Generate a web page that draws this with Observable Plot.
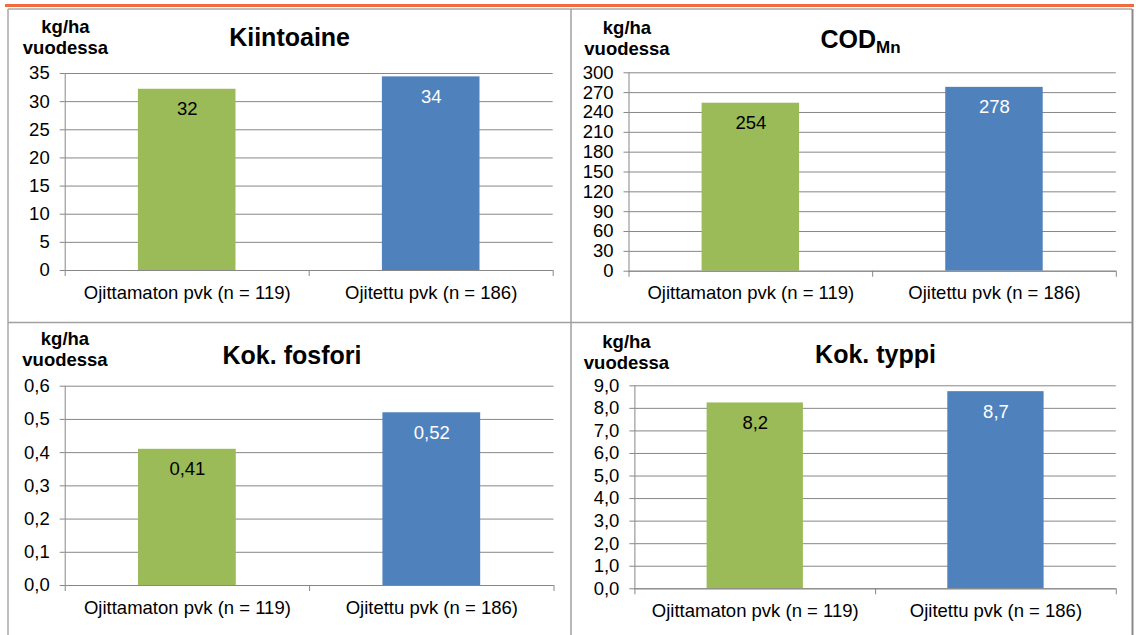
<!DOCTYPE html>
<html><head><meta charset="utf-8">
<script src="https://cdn.jsdelivr.net/npm/d3@7"></script>
<script src="https://cdn.jsdelivr.net/npm/@observablehq/plot@0.6"></script>
<style>
body{margin:0;background:#fff;}
#chart{position:relative;width:1136px;height:635px;overflow:hidden;background:#fff;font-family:"Liberation Sans",Arial,sans-serif;}
#chart svg.panel{position:absolute;overflow:visible;}
#overlay{position:absolute;left:0;top:0;pointer-events:none;}
</style></head><body><div id="chart"></div>
<script>
// ---- data ----
const categories = ["Ojittamaton pvk (n = 119)", "Ojitettu pvk (n = 186)"];
const barColors = ["#9bbb59", "#4f81bd"];
const labelColors = ["#000000", "#ffffff"];
const titles = ["Kiintoaine", "COD", "Kok. fosfori", "Kok. typpi"];
const subscriptCod = "Mn";
const unitLines = ["kg/ha", "vuodessa"];
const kiintoaine = [32.2, 34.4];
const codMn = [254, 278];
const fosfori = [0.41, 0.52];
const typpi = [8.24, 8.74];
const ticksKiintoaine = [0, 5, 10, 15, 20, 25, 30, 35];
const ticksCod = [0, 30, 60, 90, 120, 150, 180, 210, 240, 270, 300];
const ticksFosfori = [0, 0.1, 0.2, 0.3, 0.4, 0.5, 0.6];
const ticksTyppi = [0, 1, 2, 3, 4, 5, 6, 7, 8, 9];

// ---- formatting ----
const fi = d3.formatLocale({decimal: ",", thousands: "\u00a0", grouping: [3], currency: ["", " €"]});
const gridColor = "#878787";
const font = "'Liberation Sans', Arial, sans-serif";
const fs = 18.5;

// ---- layout ----
const panels = [
  {values: kiintoaine, ticks: ticksKiintoaine, tickFmt: fi.format(".0f"), labelFmt: fi.format(".0f"),
   left: 9, top: 10, width: 562, height: 312, mt: 63, mr: 18.3, mb: 52, ml: 55.7},
  {values: codMn, ticks: ticksCod, tickFmt: fi.format(".0f"), labelFmt: fi.format(".0f"),
   left: 572, top: 10, width: 560, height: 312, mt: 62.3, mr: 16.2, mb: 51.3, ml: 56.5},
  {values: fosfori, ticks: ticksFosfori, tickFmt: fi.format(".1f"), labelFmt: fi.format(".2f"),
   left: 9, top: 324, width: 562, height: 311, mt: 61.7, mr: 17.5, mb: 50, ml: 55.7},
  {values: typpi, ticks: ticksTyppi, tickFmt: fi.format(".1f"), labelFmt: fi.format(".1f"),
   left: 572, top: 324, width: 560, height: 311, mt: 61.3, mr: 16.2, mb: 46.7, ml: 62.4}
];

const chart = document.getElementById("chart");

panels.forEach(p => {
  const data = categories.map((c, i) => ({i, category: c, value: p.values[i], color: barColors[i], labelColor: labelColors[i]}));
  const ymax = p.ticks[p.ticks.length - 1];
  const svg = Plot.plot({
    width: p.width, height: p.height,
    marginTop: p.mt, marginRight: p.mr, marginBottom: p.mb, marginLeft: p.ml,
    x: {domain: [0, categories.length]},
    y: {domain: [0, ymax]},
    color: {type: "identity"},
    style: {fontFamily: font, fontSize: fs + "px", color: "#000", background: "transparent", maxWidth: "none", overflow: "visible"},
    marks: [
      Plot.gridY(p.ticks, {stroke: gridColor, strokeOpacity: 1, strokeWidth: 1}),
      Plot.axisY(p.ticks, {tickSize: 5, tickPadding: 10.5, tickFormat: p.tickFmt, stroke: gridColor, fill: "#000", fontSize: fs, label: null}),
      Plot.rectY(data, {x1: d => d.i + 0.3, x2: d => d.i + 0.7, y: "value", fill: "color"}),
      Plot.ruleX([0], {stroke: gridColor}),
      Plot.ruleY([0], {stroke: gridColor}),
      Plot.axisX(d3.range(categories.length + 1), {tickSize: 6, tickFormat: () => "", stroke: gridColor, label: null}),
      Plot.axisX(categories.map((c, i) => i + 0.5), {tickSize: 0, tickPadding: 15, tickFormat: t => categories[Math.floor(t)], fill: "#000", fontSize: fs, label: null}),
      Plot.text(data, {x: d => d.i + 0.5, y: "value", text: d => p.labelFmt(d.value), fill: "labelColor", fontSize: fs, dy: 20})
    ]
  });
  svg.classList.add("panel");
  svg.style.left = p.left + "px";
  svg.style.top = p.top + "px";
  chart.appendChild(svg);
});

// ---- overlay: frame, titles, unit labels ----
const ns = "http://www.w3.org/2000/svg";
const ov = document.createElementNS(ns, "svg");
ov.setAttribute("id", "overlay");
ov.setAttribute("width", 1136);
ov.setAttribute("height", 635);
chart.appendChild(ov);
function el(tag, attrs, txt) {
  const e = document.createElementNS(ns, tag);
  for (const k in attrs) e.setAttribute(k, attrs[k]);
  if (txt != null) e.textContent = txt;
  return e;
}
ov.appendChild(el("rect", {x: 5, y: 4, width: 1129, height: 3, fill: "#f26b3d"}));
ov.appendChild(el("line", {x1: 8, y1: 9, x2: 1132, y2: 9, stroke: "#a8a8a8", "stroke-width": 1.5}));
ov.appendChild(el("line", {x1: 8, y1: 9, x2: 8, y2: 640, stroke: "#a8a8a8", "stroke-width": 1.5}));
ov.appendChild(el("line", {x1: 571, y1: 9, x2: 571, y2: 640, stroke: "#a0a0a0", "stroke-width": 1.5}));
ov.appendChild(el("line", {x1: 8, y1: 322.5, x2: 1132, y2: 322.5, stroke: "#a0a0a0", "stroke-width": 1.5}));
ov.appendChild(el("line", {x1: 1132.5, y1: 9, x2: 1132.5, y2: 640, stroke: "#8a8a8a", "stroke-width": 2}));

const titleSpecs = [
  {x: 289.6, y: 46},
  {x: 820.5, y: 48, anchor: "start"},
  {x: 292, y: 364},
  {x: 875.5, y: 363.3}
];
const unitSpecs = [
  {x: 65.5, y1: 33.3, y2: 54.3},
  {x: 627, y1: 34.3, y2: 55},
  {x: 65, y1: 345, y2: 366},
  {x: 626.5, y1: 348.3, y2: 369.3}
];
titles.forEach((t, i) => {
  const s = titleSpecs[i];
  const te = el("text", {x: s.x, y: s.y, "text-anchor": s.anchor || "middle", "font-family": font, "font-weight": "bold", "font-size": 25, fill: "#000"});
  te.appendChild(el("tspan", {}, t));
  if (i === 1) te.appendChild(el("tspan", {"font-size": 17, dy: 5}, subscriptCod));
  ov.appendChild(te);
  const u = unitSpecs[i];
  ov.appendChild(el("text", {x: u.x, y: u.y1, "text-anchor": "middle", "font-family": font, "font-weight": "bold", "font-size": 18.5, fill: "#000"}, unitLines[0]));
  ov.appendChild(el("text", {x: u.x, y: u.y2, "text-anchor": "middle", "font-family": font, "font-weight": "bold", "font-size": 18.5, fill: "#000"}, unitLines[1]));
});
</script></body></html>
